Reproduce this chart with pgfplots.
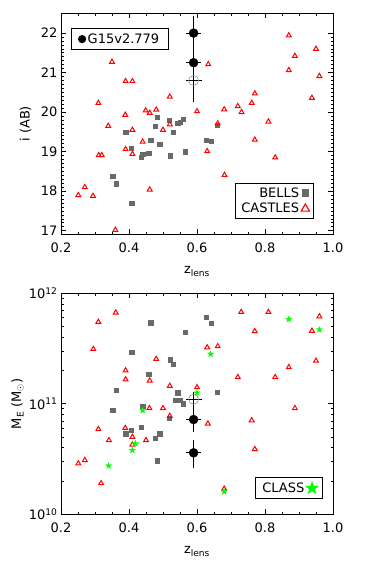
\documentclass[border=0pt]{standalone}
\usepackage{fontspec}
\setmainfont{DejaVu Sans}
\usepackage{pgfplots}
\usepackage{pgfplotstable}
\pgfplotsset{compat=1.18}
\definecolor{bellsgray}{RGB}{105,105,105}
\definecolor{classgreen}{RGB}{0,255,0}

\pgfdeclareplotmark{fivestar}{%
  \pgfpathmoveto{\pgfpointpolar{90}{\pgfplotmarksize}}%
  \pgfpathlineto{\pgfpointpolar{126}{0.42\pgfplotmarksize}}%
  \pgfpathlineto{\pgfpointpolar{162}{\pgfplotmarksize}}%
  \pgfpathlineto{\pgfpointpolar{198}{0.42\pgfplotmarksize}}%
  \pgfpathlineto{\pgfpointpolar{234}{\pgfplotmarksize}}%
  \pgfpathlineto{\pgfpointpolar{270}{0.42\pgfplotmarksize}}%
  \pgfpathlineto{\pgfpointpolar{306}{\pgfplotmarksize}}%
  \pgfpathlineto{\pgfpointpolar{342}{0.42\pgfplotmarksize}}%
  \pgfpathlineto{\pgfpointpolar{18}{\pgfplotmarksize}}%
  \pgfpathlineto{\pgfpointpolar{54}{0.42\pgfplotmarksize}}%
  \pgfpathclose\pgfusepathqfillstroke}

% ---------- top panel data (i band) ----------
\pgfplotstableread{
x y
0.251 17.90
0.270 18.10
0.294 17.88
0.311 18.91
0.320 18.91
0.310 20.23
0.339 19.65
0.350 21.27
0.360 17.02
0.389 19.93
0.390 20.78
0.390 19.06
0.410 20.78
0.410 19.55
0.410 18.94
0.440 19.25
0.449 20.04
0.461 19.98
0.461 18.04
0.480 20.06
0.500 19.55
0.520 20.39
0.520 19.69
0.600 20.02
0.630 19.01
0.633 21.21
0.661 19.71
0.680 20.07
0.681 18.41
0.720 20.15
0.731 20.00
0.761 20.23
0.770 20.47
0.770 19.30
0.810 19.76
0.830 18.85
0.870 21.94
0.888 21.42
0.870 21.06
0.938 20.36
0.950 21.60
0.960 20.91
}\castlesI
\pgfplotstableread{
x y
0.352 18.38
0.363 18.19
0.390 19.49
0.407 19.08
0.408 17.69
0.437 18.85
0.440 18.93
0.458 18.96
0.464 19.28
0.476 19.65
0.484 19.87
0.490 19.18
0.518 19.80
0.520 18.90
0.530 19.50
0.543 19.72
0.550 19.74
0.560 19.82
0.565 19.00
0.626 19.29
0.642 19.26
0.659 19.66
}\bellsI
\pgfplotstableread{
x y ex ey
0.59 22.00 0.018 0.40
0.59 21.25 0.018 0.37
}\gfilledI
\pgfplotstableread{
x y ex ey
0.59 20.80 0.020 0.50
}\gopenI

% ---------- bottom panel data (Einstein mass) ----------
\pgfplotstableread{
x y
0.251 2.88e10
0.270 3.09e10
0.295 3.13e11
0.310 5.50e11
0.310 5.89e10
0.318 1.91e10
0.341 4.68e10
0.361 6.68e11
0.390 2.00e11
0.390 1.66e11
0.389 6.03e10
0.410 5.01e10
0.410 4.27e10
0.450 4.68e10
0.461 1.62e11
0.460 9.12e10
0.480 2.54e11
0.500 9.12e10
0.520 1.45e11
0.520 7.76e10
0.600 1.41e11
0.630 3.24e11
0.661 3.31e11
0.632 6.61e10
0.680 1.70e10
0.720 1.74e11
0.730 6.76e11
0.761 7.08e10
0.770 4.53e11
0.770 3.89e10
0.810 6.76e11
0.830 1.74e11
0.870 2.14e11
0.888 9.12e10
0.938 4.57e11
0.950 2.45e11
0.960 6.17e11
}\castlesM
\pgfplotstableread{
x y
0.352 8.71e10
0.363 1.32e11
0.390 5.37e10
0.407 5.75e10
0.408 2.95e11
0.437 6.17e10
0.440 9.55e10
0.458 1.86e11
0.464 5.42e11
0.476 4.90e10
0.484 3.05e10
0.490 5.37e10
0.518 7.41e10
0.522 2.51e11
0.530 2.27e11
0.543 1.26e11
0.537 1.07e11
0.550 1.07e11
0.560 1.00e11
0.565 4.44e11
0.626 6.03e11
0.642 5.37e11
0.660 1.28e11
}\bellsM
\pgfplotstableread{
x y
0.870 5.82e11
0.960 4.68e11
0.640 2.82e11
0.600 1.26e11
0.440 8.71e10
0.419 4.37e10
0.410 3.80e10
0.340 2.75e10
0.680 1.60e10
}\classM
\pgfplotstableread{
x y ex eyp eym
0.59 7.2e10 0.018 1.5e10 1.45e10
0.59 3.6e10 0.018 1.0e10 0.9e10
}\gfilledM
\pgfplotstableread{
x y ex eyp eym
0.59 1.1e11 0.020 1.45e10 1.7e10
}\gopenM

\pgfplotsset{
  panel/.style={
    scale only axis, width=272pt, height=221pt,
    xmin=0.2, xmax=1.0,
    xtick={0.2,0.4,0.6,0.8,1.0}, minor x tick num=3,
    xticklabel style={yshift=-5pt, /pgf/number format/.cd, fixed, fixed zerofill, precision=1},
    /pgf/number format/assume math mode=true,
    xtick pos=both, ytick pos=both,
    xticklabel pos=lower, yticklabel pos=left,
    tick align=inside, major tick length=5pt, minor tick length=2.5pt,
    every tick/.style={black, line width=0.7pt},
    axis line style={line width=0.9pt},
    font=\fontsize{13}{15}\selectfont,
    xlabel={z\textsubscript{lens}},
    xlabel style={at={(axis description cs:0.5,-0.17)}, anchor=center},
    legend style={draw=black, line width=0.9pt, fill=white,
      font=\fontsize{13}{15}\selectfont, inner xsep=4pt, inner ysep=2.5pt,
      row sep=0.5pt},
    legend cell align=right, legend plot pos=right,
  },
  castles/.style={only marks, mark=triangle, mark size=2.8pt,
    mark options={draw=red, fill=white, line width=1pt}},
  bells/.style={only marks, mark=square*, mark size=2.1pt,
    mark options={draw=bellsgray, fill=bellsgray}},
  classs/.style={only marks, mark=fivestar, mark size=3.3pt,
    mark options={draw=classgreen, fill=classgreen, line width=0.2pt}},
  gerr/.style={error bars/.cd, y dir=both, x dir=both, x explicit, y explicit,
    error bar style={black, line width=0.8pt},
    error mark options={black, mark size=1.3pt, line width=0.8pt}, /pgfplots/.cd},
}

\begin{document}
\begin{tikzpicture}
\path[use as bounding box] (0pt,0pt) rectangle (374pt,561pt);

% ================= TOP PANEL =================
\begin{axis}[panel, at={(61pt,326.7pt)}, anchor=south west,
  ymin=16.91, ymax=22.5, ytick={17,18,19,20,21,22}, minor y tick num=9,
  ylabel={i (AB)},
  ylabel style={at={(axis description cs:-0.13,0.5)}, anchor=center},
  legend style={at={(0.93,0.068)}, anchor=south east},
]
\addplot[bells, forget plot] table[x=x,y=y] {\bellsI};
\addplot[castles, forget plot] table[x=x,y=y] {\castlesI};
\addlegendimage{only marks, mark=square*, mark size=3.4pt, mark options={draw=bellsgray, fill=bellsgray}}
\addlegendentry{BELLS}
\addlegendimage{only marks, mark=triangle, mark size=4.8pt, mark options={draw=red, fill=white, line width=1.1pt}}
\addlegendentry{CASTLES}
\end{axis}
\begin{axis}[panel, at={(61pt,326.7pt)}, anchor=south west, hide axis,
  ymin=16.91, ymax=22.5,
  legend style={at={(0.037,0.933)}, anchor=north west, inner xsep=7pt, inner ysep=3pt},
  legend cell align=left, legend plot pos=left,
]
\addplot[forget plot, only marks, mark=o, mark size=5pt, mark options={draw=gray, line width=0.5pt}, gerr]
  table[x=x, y=y, x error=ex, y error=ey] {\gopenI};
\addplot[forget plot, only marks, mark=*, mark size=4.5pt, mark options={draw=black, fill=black}, gerr]
  table[x=x, y=y, x error=ex, y error=ey] {\gfilledI};
\addlegendimage{only marks, mark=*, mark size=3.6pt, mark options={draw=black, fill=black}}
\addlegendentry{G15v2.779}
\end{axis}

% ================= BOTTOM PANEL =================
\begin{axis}[panel, at={(61pt,46.7pt)}, anchor=south west,
  ymode=log, ymin=1e10, ymax=1e12,
  ytick={1e10,1e11,1e12},
  yticklabels={10\textsuperscript{10},10\textsuperscript{11},10\textsuperscript{12}},
  ylabel={M\textsubscript{E} (M\textsubscript{$\odot$})},
  ylabel style={at={(axis description cs:-0.16,0.5)}, anchor=center},
  legend style={at={(0.964,0.068)}, anchor=south east, inner xsep=5pt, inner ysep=3pt},
]
\addplot[bells, forget plot] table[x=x,y=y] {\bellsM};
\addplot[castles, forget plot] table[x=x,y=y] {\castlesM};
\addplot[classs, forget plot] table[x=x,y=y] {\classM};
\addplot[forget plot, only marks, mark=o, mark size=5pt, mark options={draw=gray, line width=0.5pt}, gerr]
  table[x=x, y=y, x error=ex, y error plus=eyp, y error minus=eym] {\gopenM};
\addplot[forget plot, only marks, mark=*, mark size=4.5pt, mark options={draw=black, fill=black}, gerr]
  table[x=x, y=y, x error=ex, y error plus=eyp, y error minus=eym] {\gfilledM};
\addlegendimage{only marks, mark=fivestar, mark size=6pt, mark options={draw=classgreen, fill=classgreen}}
\addlegendentry{CLASS}
\end{axis}
\end{tikzpicture}
\end{document}
